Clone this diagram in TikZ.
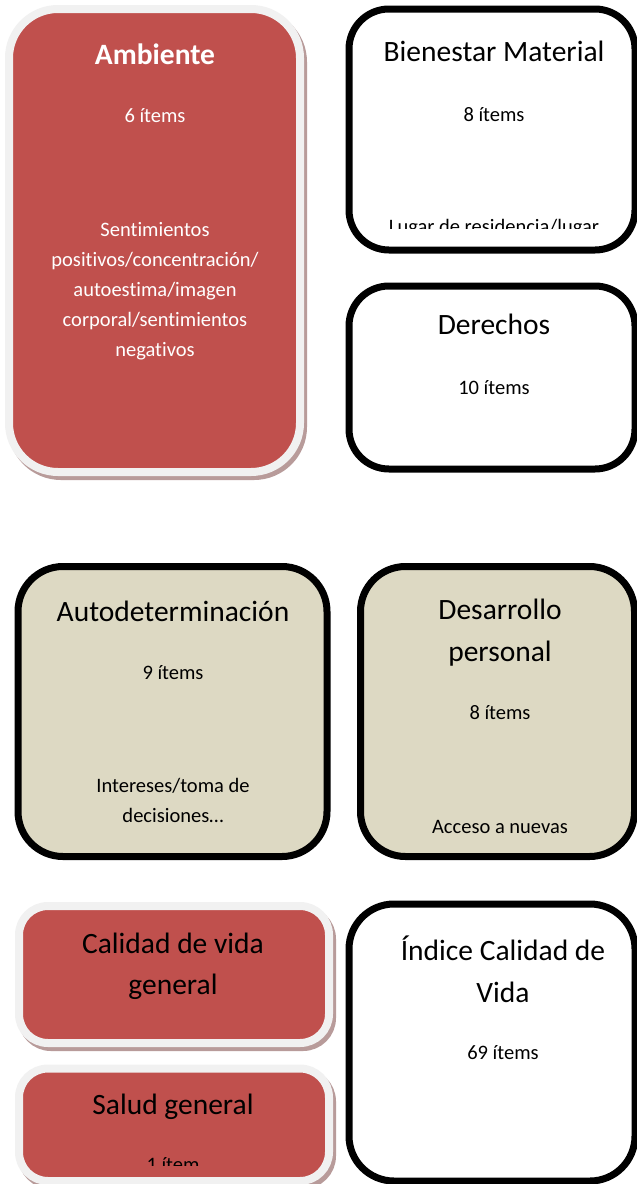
\documentclass[tikz,border=0pt]{standalone}
\usepackage{fontspec}
\setmainfont{Carlito}[Ligatures={NoCommon}]
\definecolor{redfill}{HTML}{C0504D}
\definecolor{grayborder}{HTML}{F1F1F1}
\definecolor{shadowc}{HTML}{B89B9A}
\definecolor{beige}{HTML}{DDD9C3}
\begin{document}
\begin{tikzpicture}[x=1pt,y=-1pt,
  redbox/.style={draw=grayborder, line width=8pt, fill=redfill, inner sep=0pt},
  shadowbox/.style={draw=shadowc, line width=8pt, fill=shadowc, inner sep=0pt},
  whitebox/.style={draw=black, line width=7pt, fill=white, inner sep=0pt},
  beigebox/.style={draw=black, line width=7pt, fill=beige, inner sep=0pt},
  title/.style={font=\fontsize{29.5}{35}\selectfont, anchor=base, inner sep=0pt},
  small/.style={font=\fontsize{20.5}{24}\selectfont, anchor=base, inner sep=0pt}]
\useasboundingbox (0,0) rectangle (637,1184);
\fill[white] (0,0) rectangle (637,1184);

% Ambiente
\node[shadowbox, rounded corners=49pt, minimum width=291pt, minimum height=463pt] (ambS) at (157.5,244.5) {};
\node[redbox, rounded corners=49pt, minimum width=291pt, minimum height=463pt] (amb) at (154.5,240.5) {};
\node[title, text=white, font=\fontsize{29.5}{35}\selectfont\bfseries] (ambT) at (155,64) {Ambiente};
\node[small, text=white] (ambN) at (155,122) {6 ítems};
\node[small, text=white] (ambD1) at (155,236) {Sentimientos};
\node[small, text=white] (ambD2) at (155,266) {positivos/concentración/};
\node[small, text=white] (ambD3) at (155,296) {autoestima/imagen};
\node[small, text=white] (ambD4) at (155,326) {corporal/sentimientos};
\node[small, text=white] (ambD5) at (155,356) {negativos};

% Bienestar Material
\node[whitebox, rounded corners=40pt, minimum width=286pt, minimum height=241pt] (bien) at (492,129.5) {};
\node[title] (bienT) at (494,61) {Bienestar Material};
\node[small] (bienN) at (494,121) {8 ítems};
\begin{scope}
\clip (360,200) rectangle (630,228.5);
\node[small] (bienD) at (494,233) {Lugar de residencia/lugar};
\end{scope}

% Derechos
\node[whitebox, rounded corners=40pt, minimum width=286pt, minimum height=183pt] (der) at (492,377.5) {};
\node[title] (derT) at (494,334) {Derechos};
\node[small] (derN) at (494,394) {10 ítems};

% Autodeterminacion
\node[beigebox, rounded corners=45pt, minimum width=309pt, minimum height=290pt] (auto) at (172.5,711.5) {};
\node[title] (autoT) at (173,621) {Autodeterminación};
\node[small] (autoN) at (173,679) {9 ítems};
\node[small] (autoD1) at (173,792) {Intereses/toma de};
\node[small] (autoD2) at (173,822) {decisiones…};

% Desarrollo personal
\node[beigebox, rounded corners=45pt, minimum width=274pt, minimum height=290pt] (des) at (497.5,711.5) {};
\node[title] (desT1) at (500,619) {Desarrollo};
\node[title] (desT2) at (500,661) {personal};
\node[small] (desN) at (500,719) {8 ítems};
\node[small] (desD) at (500,833) {Acceso a nuevas};

% Calidad de vida general
\node[shadowbox, rounded corners=29pt, minimum width=310pt, minimum height=137pt] (calS) at (177,978.5) {};
\node[redbox, rounded corners=29pt, minimum width=310pt, minimum height=137pt] (cal) at (174,974.5) {};
\node[title] (calT1) at (173,953) {Calidad de vida};
\node[title] (calT2) at (173,994) {general};

% Salud general
\node[shadowbox, rounded corners=29pt, minimum width=310pt, minimum height=112.5pt] (salS) at (177,1128.75) {};
\node[redbox, rounded corners=29pt, minimum width=310pt, minimum height=112.5pt] (sal) at (174,1124.75) {};
\node[title] (salT) at (173,1114) {Salud general};
\begin{scope}
\clip (100,1150) rectangle (250,1165);
\node[small] (salN) at (173,1171) {1 ítem};
\end{scope}

% Indice Calidad de Vida
\node[whitebox, rounded corners=45pt, minimum width=286pt, minimum height=277pt] (ind) at (492,1042.5) {};
\node[title] (indT1) at (503,960) {Índice Calidad de};
\node[title] (indT2) at (503,1002) {Vida};
\node[small] (indN) at (503,1059) {69 ítems};
\end{tikzpicture}
\end{document}
